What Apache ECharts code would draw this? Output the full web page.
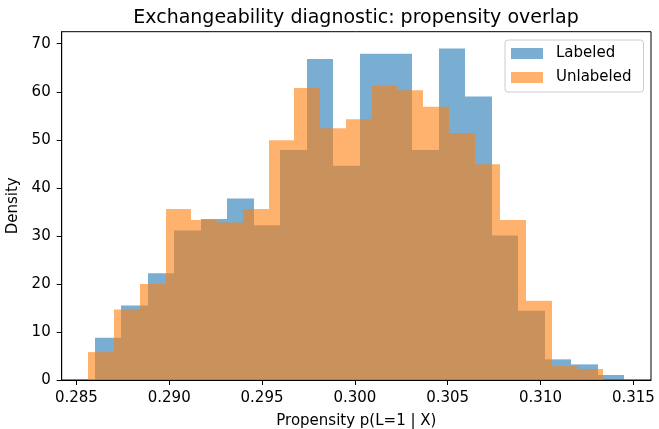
<!DOCTYPE html>
<html>
<head>
<meta charset="utf-8">
<script src="https://cdn.jsdelivr.net/npm/echarts@6/dist/echarts.min.js"></script>
<style>html,body{margin:0;padding:0;background:#fff}#c{width:659px;height:429px}</style>
</head>
<body>
<div id="c"></div>
<script>
// Histogram densities (20 bins each)
var labeledRange = [0.28599, 0.31451];
var labeledDensity = [8.8, 15.5, 22.2, 31.1, 33.5, 37.8, 32.2, 47.9, 66.8, 44.6,
                      67.9, 67.9, 47.9, 69.0, 59.0, 30.1, 14.4, 4.3, 3.25, 1.04];
var unlabeledRange = [0.28565, 0.31338];
var unlabeledDensity = [5.8, 14.65, 20.0, 35.6, 33.3, 32.8, 35.6, 49.9, 60.8, 52.4,
                        54.3, 61.25, 60.3, 56.9, 51.4, 44.9, 33.3, 16.5, 2.9, 2.3];
var xTicks = [0.285, 0.290, 0.295, 0.300, 0.305, 0.310, 0.315];
var yTicks = [0, 10, 20, 30, 40, 50, 60, 70];
var seriesNames = ['Labeled', 'Unlabeled'];

function bins(range, dens) {
  var n = dens.length, w = (range[1] - range[0]) / n;
  return dens.map(function (d, i) { return [range[0] + i * w, range[0] + (i + 1) * w, d]; });
}
function renderBar(params, api) {
  var p0 = api.coord([api.value(0), api.value(2)]);
  var p1 = api.coord([api.value(1), 0]);
  var x0 = Math.round(p0[0]), x1 = Math.round(p1[0]);
  return {
    type: 'rect',
    shape: { x: x0, y: p0[1], width: x1 - x0, height: p1[1] - p0[1] },
    style: { fill: api.visual('color') }
  };
}
var FONT = 'DejaVu Sans';
var FS = 15;
var chart = echarts.init(document.getElementById('c'), null, { renderer: 'canvas' });
chart.setOption({
  animation: false,
  backgroundColor: '#ffffff',
  textStyle: { fontFamily: FONT },
  title: {
    text: 'Exchangeability diagnostic: propensity overlap',
    left: 351, top: 4, textAlign: 'center',
    textStyle: { fontFamily: FONT, fontSize: 19, fontWeight: 'normal', color: '#000' }
  },
  legend: {
    orient: 'vertical', left: 505, top: 40,
    data: seriesNames, icon: 'rect', itemWidth: 32, itemHeight: 11, itemGap: 9,
    padding: [6, 12, 7, 6],
    backgroundColor: 'rgba(255,255,255,0.8)', borderColor: '#cccccc', borderWidth: 1, borderRadius: 3,
    textStyle: { fontFamily: FONT, fontSize: FS, color: '#000', padding: [0, 0, 0, 8] }
  },
  grid: { left: 61.7, right: 8, top: 31.7, bottom: 49, outerBoundsMode: 'none', containLabel: false,
    show: true, borderColor: '#000', borderWidth: 1, backgroundColor: 'transparent' },
  xAxis: {
    type: 'value', min: 0.28421, max: 0.31595,
    name: 'Propensity p(L=1 | X)', nameLocation: 'middle', nameGap: 34,
    nameTextStyle: { fontFamily: FONT, fontSize: FS, color: '#000' },
    axisLine: { show: true, lineStyle: { color: '#000', width: 1 } },
    axisTick: { show: true, length: 5, lineStyle: { color: '#000' }, customValues: xTicks },
    axisLabel: { fontFamily: FONT, fontSize: FS, color: '#000', margin: 11, customValues: xTicks,
      formatter: function (v) { return v.toFixed(3); } },
    splitLine: { show: false }
  },
  yAxis: {
    type: 'value', min: 0, max: 72.5,
    name: 'Density', nameLocation: 'middle', nameGap: 38, nameRotate: 90,
    nameTextStyle: { fontFamily: FONT, fontSize: FS, color: '#000' },
    axisLine: { show: true, lineStyle: { color: '#000', width: 1 } },
    axisTick: { show: true, length: 5, lineStyle: { color: '#000' }, customValues: yTicks },
    axisLabel: { fontFamily: FONT, fontSize: FS, color: '#000', margin: 11, customValues: yTicks },
    splitLine: { show: false }
  },
  series: [
    { name: seriesNames[0], type: 'custom', renderItem: renderBar, encode: { x: [0, 1], y: 2 },
      itemStyle: { color: 'rgba(31,119,180,0.6)' }, data: bins(labeledRange, labeledDensity) },
    { name: seriesNames[1], type: 'custom', renderItem: renderBar, encode: { x: [0, 1], y: 2 },
      itemStyle: { color: 'rgba(255,127,14,0.6)' }, data: bins(unlabeledRange, unlabeledDensity) }
  ]
});
</script>
</body>
</html>
